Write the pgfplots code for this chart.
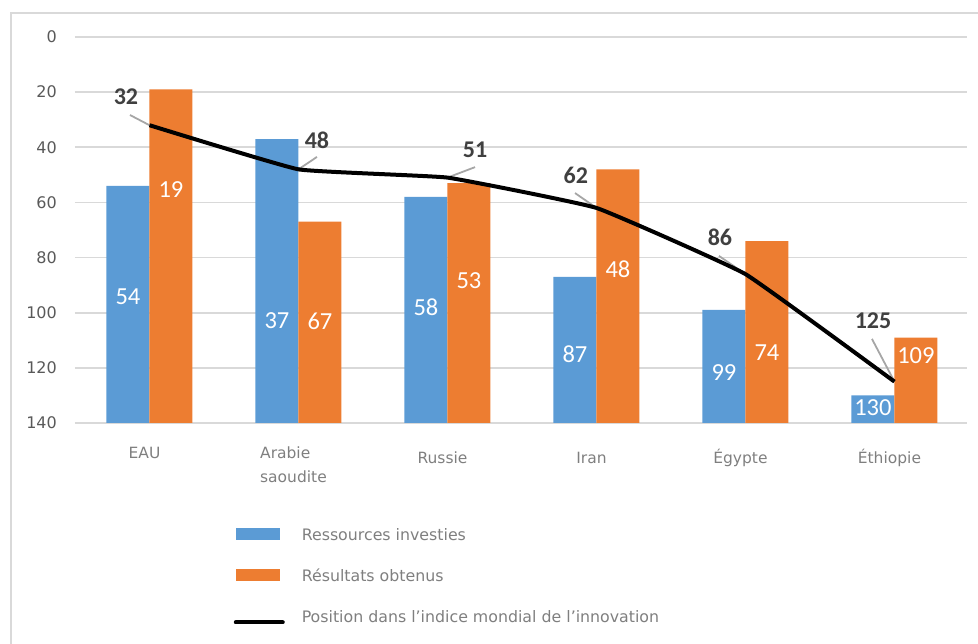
\documentclass[border=0pt]{standalone}
\usepackage{pgfplots}
\pgfplotsset{compat=1.18}
\usepackage{pgfplotstable}
\usepackage{fontspec}
\setmainfont{DejaVu Sans}
\newfontfamily\calibri{Carlito}
\definecolor{cblue}{HTML}{5B9BD5}
\definecolor{corange}{HTML}{ED7D31}
\definecolor{gridgray}{HTML}{D9D9D9}
\definecolor{ticktext}{HTML}{595959}
\definecolor{cattext}{HTML}{7F7F7F}
\definecolor{lbltext}{HTML}{404040}
\definecolor{leader}{HTML}{A6A6A6}

\pgfplotsset{
  mybarlegend/.style={legend image code/.code={\fill[##1,draw=none] (0pt,-4pt) rectangle (44pt,8pt);}},
  mylinelegend/.style={legend image code/.code={\draw[##1, line cap=round] (0pt,-4pt) -- (47pt,-4pt);}},
}

% values (rank: lower is better)
\pgfplotstableread{
x res out pos
0 54 19 32
1 37 67 48
2 58 53 51
3 87 48 62
4 99 74 86
5 130 109 125
}\maindata

% label positions (in rank units) for the bar labels
\pgfplotstableread{
x res lres out lout
0 54 94.3 19 55.5
1 37 103.0 67 103.0
2 58 97.9 53 88.5
3 87 115.0 48 84.1
4 99 121.8 74 114.6
5 130 134.6 109 115.7
}\barlbl

% label positions for the index labels
\pgfplotstableread{
x v pos
-0.158 21.8 32
1.124 37.4 48
2.185 41.0 51
2.862 50.1 62
3.829 72.5 86
4.856 103.0 125
}\poslbl

\begin{document}
\begin{tikzpicture}
\useasboundingbox (0pt,0pt) rectangle (978pt,644pt);
\draw[gridgray, line width=2pt] (11pt,-20pt) -- (11pt,631pt) -- (1000pt,631pt);
\begin{axis}[
  at={(75pt,221pt)}, anchor=south west,
  scale only axis, width=892pt, height=386pt,
  xmin=-0.5, xmax=5.487, ymin=0, ymax=140,
  axis line style={draw=none},
  major tick length=0pt, tick style={draw=none},
  ytick={0,20,...,140},
  yticklabels={140,120,100,80,60,40,20,0},
  xtick={0,...,5},
  xticklabels={{\raisebox{5.3pt}[0pt][0pt]{EAU}},
               {\raisebox{5.3pt}[0pt][0pt]{\begin{tabular}[t]{@{}l@{}}Arabie\\saoudite\end{tabular}}},
               Russie, Iran, Égypte, Éthiopie},
  ymajorgrids,
  grid style={color=gridgray, line width=1.8pt},
  yticklabel style={font=\fontsize{16}{19}\selectfont, text=ticktext, anchor=east, inner sep=0pt, xshift=-18pt},
  xticklabel style={font=\fontsize{15.5}{24}\selectfont, text=cattext, anchor=north, inner sep=0pt,
                    text height=11.3pt, text depth=3pt, yshift=-29pt, xshift=-5pt, align=left},
  clip=false,
  legend cell align=left,
  legend style={at={(0.178,-0.272)}, anchor=north west, draw=none, fill=none,
    inner sep=0pt, outer sep=0pt, row sep=26pt,
    font=\fontsize{15.8}{19}\selectfont, text=cattext,
    nodes={inner sep=0pt, outer sep=0pt, text height=12pt, text depth=3pt},
    /tikz/every odd column/.append style={column sep=17pt}},
]
\addplot[ybar, bar width=43pt, bar shift=-21.5pt, fill=cblue, draw=none, mybarlegend]
  table[x=x, y expr=140-\thisrow{res}] {\maindata};
\addlegendentry{Ressources investies}
\addplot[ybar, bar width=43pt, bar shift=21.5pt, fill=corange, draw=none, mybarlegend]
  table[x=x, y expr=140-\thisrow{out}] {\maindata};
\addlegendentry{Résultats obtenus}

% leader lines for the index labels
\draw[leader, line width=1.8pt] (axis cs:-0.131,111.7) -- (axis cs:0,108);
\draw[leader, line width=1.8pt] (axis cs:1.124,96.5) -- (axis cs:1,92);
\draw[leader, line width=1.8pt] (axis cs:2.185,92.8) -- (axis cs:2,89);
\draw[leader, line width=1.8pt] (axis cs:2.856,83.4) -- (axis cs:3,78);
\draw[leader, line width=1.8pt] (axis cs:3.822,60.6) -- (axis cs:4,54);
\draw[leader, line width=1.8pt] (axis cs:4.849,30.5) -- (axis cs:5,15);

\addplot[black, line width=4pt, smooth, tension=0.18, mark=none, mylinelegend]
  table[x=x, y expr=140-\thisrow{pos}] {\maindata};
\addlegendentry{Position dans l’indice mondial de l’innovation}

% bar value labels
\addplot[forget plot, draw=none, mark=none, nodes near coords, point meta=explicit symbolic,
  nodes near coords style={anchor=center, text=white, inner sep=0pt, font=\calibri\fontsize{24.5}{24}\selectfont}]
  table[x expr=\thisrow{x}-0.1443, y expr=140-\thisrow{lres}, meta=res] {\barlbl};
\addplot[forget plot, draw=none, mark=none, nodes near coords, point meta=explicit symbolic,
  nodes near coords style={anchor=center, text=white, inner sep=0pt, font=\calibri\fontsize{24.5}{24}\selectfont}]
  table[x expr=\thisrow{x}+0.1443, y expr=140-\thisrow{lout}, meta=out] {\barlbl};
% index labels
\addplot[forget plot, draw=none, mark=none, nodes near coords, point meta=explicit symbolic,
  nodes near coords style={anchor=center, text=lbltext, inner sep=0pt, font=\calibri\bfseries\fontsize{24}{24}\selectfont}]
  table[x=x, y expr=140-\thisrow{v}, meta=pos] {\poslbl};
\end{axis}
\end{tikzpicture}
\end{document}
